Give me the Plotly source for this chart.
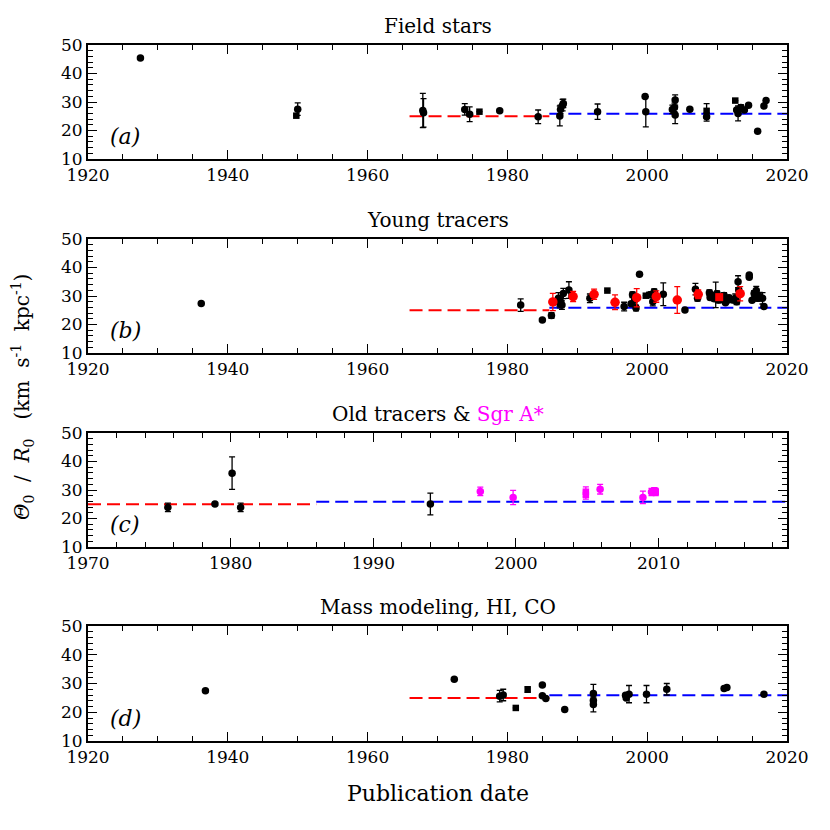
import plotly.graph_objects as go
from plotly.subplots import make_subplots

# ---- (a) field stars ----
a_circ_x = [1927.5, 1950.0, 1967.9, 1968.0, 1973.9, 1974.6, 1978.9, 1984.4, 1987.5, 1987.6,
            1987.9, 1988.0, 1992.9, 1999.7, 1999.8, 2003.6, 2003.9, 2004.0, 2004.0, 2006.1,
            2008.5, 2012.8, 2013.0, 2013.4, 2013.9, 2014.5, 2015.8, 2016.7, 2017.0]
a_circ_y = [45.4, 27.5, 27.0, 26.2, 27.4, 25.7, 26.9, 24.8, 25.1, 27.4,
            28.9, 29.5, 26.6, 31.9, 26.6, 27.4, 28.1, 30.7, 25.4, 27.5,
            24.8, 27.2, 26.0, 28.1, 27.2, 28.9, 19.7, 28.6, 30.5]
a_circ_e = [0, 2.2, 6.0, 5.0, 2.0, 2.6, 0, 2.4, 3.5, 1.5,
            2.0, 1.5, 2.7, 0, 5.3, 1.5, 1.5, 1.8, 3.0, 0,
            1.5, 0, 2.6, 1.0, 0, 0, 0, 0, 0]
a_sq_x = [1949.8, 1976.0, 2008.5, 2012.6]
a_sq_y = [25.2, 26.6, 26.9, 30.5]
a_sq_e = [0, 0, 2.5, 0]

# ---- (b) young tracers ----
b_circ_x = [1936.2, 1981.9, 1985.0, 1986.3, 1987.3, 1987.6, 1988.0, 1987.8, 1988.8, 1991.8,
            1996.7, 1997.7, 1997.9, 1998.2, 1998.4, 1998.9, 2000.5, 2000.8, 2001.0, 2002.3,
            2005.4, 2006.9, 2007.2, 2008.9, 2009.3, 2009.8, 2010.2, 2010.9, 2011.2, 2011.5,
            2012.6, 2012.8, 2013.0, 2013.1, 2014.6, 2014.6, 2015.0, 2015.3, 2015.6, 2015.8,
            2016.1, 2016.5, 2016.7, 2009.0, 2009.6, 2010.0, 2010.6, 2011.0, 2011.7, 2012.2]
b_circ_y = [27.4, 26.8, 21.6, 23.2, 29.2, 28.0, 30.9, 26.8, 32.1, 29.2,
            26.3, 27.3, 30.4, 28.6, 25.8, 37.6, 30.4, 28.0, 31.5, 30.6,
            25.1, 32.4, 29.2, 31.1, 30.2, 30.4, 28.6, 29.2, 27.6, 28.5,
            29.2, 28.0, 35.0, 32.1, 37.4, 36.6, 28.5, 30.9, 31.9, 29.2,
            29.8, 29.2, 26.3, 29.5, 29.0, 30.8, 28.9, 30.2, 29.4, 28.6]
b_circ_e = [0, 2.2, 0, 1.0, 2.0, 1.5, 1.8, 1.5, 2.9, 1.5,
            1.5, 0, 1.0, 1.5, 1.0, 0, 1.0, 1.5, 1.0, 4.0,
            0, 2.0, 1.0, 1.0, 1.0, 4.5, 1.0, 1.5, 0, 0,
            1.5, 1.0, 2.1, 0, 0, 0, 0, 1.0, 1.5, 1.0,
            1.5, 2.0, 0, 0.8, 0.8, 1.0, 0.8, 1.0, 0.8, 0.8]
b_sq_x = [1987.5, 1994.3, 1999.8, 2000.3, 2009.9, 2011.0]
b_sq_y = [27.3, 31.9, 30.1, 30.4, 30.0, 29.0]
b_sq_e = [1.5, 0, 0, 0, 1.0, 1.0]
b_red_x = [1986.5, 1989.4, 1992.4, 1995.4, 1998.5, 2001.3, 2004.3, 2007.3, 2013.3]
b_red_y = [27.9, 29.8, 30.6, 27.8, 29.4, 29.8, 28.6, 30.6, 30.8]
b_red_e = [3.0, 1.8, 1.8, 2.6, 3.2, 2.0, 4.7, 1.5, 2.5]
b_redsq_x = [2010.3]
b_redsq_y = [29.6]
b_redsq_e = [1.0]

# ---- (c) old tracers & Sgr A* ----
c_circ_x = [1975.6, 1978.9, 1980.1, 1980.7, 1994.0]
c_circ_y = [23.9, 25.1, 35.9, 23.9, 25.1]
c_circ_e = [1.5, 0, 5.7, 1.5, 3.8]
c_mag_x = [1997.5, 1999.8, 2005.9, 2008.9, 2009.5]
c_mag_y = [29.5, 27.4, 30.3, 27.4, 29.3]
c_mag_e = [1.5, 2.5, 1.7, 2.2, 1.3]
c_magsq_x = [2004.9, 2004.9, 2009.8, 2009.7]
c_magsq_y = [29.4, 28.3, 29.3, 29.8]
c_magsq_e = [1.7, 1.5, 1.3, 1.0]

# ---- (d) mass modeling, HI, CO ----
d_circ_x = [1936.8, 1972.4, 1978.9, 1979.4, 1985.0, 1985.0, 1985.5, 1988.2, 1992.3, 1992.3,
            1992.3, 1996.9, 1997.0, 1997.4, 1999.9, 2002.8, 2011.0, 2011.4, 2016.7]
d_circ_y = [27.5, 31.5, 25.6, 26.0, 29.5, 25.7, 24.8, 21.0, 26.5, 24.1,
            22.7, 25.9, 25.0, 26.3, 26.3, 28.0, 28.3, 28.6, 26.3]
d_circ_e = [0, 0, 2.0, 2.0, 0, 0, 0, 0, 3.2, 0,
            2.6, 0, 0, 3.0, 3.0, 2.0, 0, 0, 0]
d_sq_x = [1981.2, 1982.9]
d_sq_y = [21.5, 27.9]
d_sq_e = [0, 1.0]

# mean values before / after 1986
red_x = [1966, 1986]
red_x_c = [1970, 1986]
red_y = [25.0, 25.0]
blue_x = [1986, 2020]
blue_x_c = [1986, 2019]
blue_y = [25.9, 25.9]

titles = ["Field stars", "Young tracers",
          "Old tracers &amp; <span style='color:#ff00ff'>Sgr A*</span>",
          "Mass modeling, HI, CO"]
labels = ["(a)", "(b)", "(c)", "(d)"]

FONT = "DejaVu Serif"

fig = make_subplots(rows=4, cols=1)


def pts(x, y, e, row, color="black", symbol="circle", size=7.5):
    fig.add_trace(go.Scatter(x=x, y=y, mode="markers",
                             marker=dict(color=color, symbol=symbol, size=size),
                             error_y=dict(type="data", array=e, color=color,
                                          thickness=1.3, width=3),
                             showlegend=False), row=row, col=1)


def mean_lines(row, rx, bx):
    fig.add_trace(go.Scatter(x=rx, y=red_y, mode="lines",
                             line=dict(color="#ff0000", width=2, dash="13px,6px"),
                             showlegend=False), row=row, col=1)
    fig.add_trace(go.Scatter(x=bx, y=blue_y, mode="lines",
                             line=dict(color="#0000ff", width=2, dash="13px,6px"),
                             showlegend=False), row=row, col=1)


mean_lines(1, red_x, blue_x)
pts(a_circ_x, a_circ_y, a_circ_e, 1)
pts(a_sq_x, a_sq_y, a_sq_e, 1, symbol="square", size=6.5)

mean_lines(2, red_x, blue_x)
pts(b_circ_x, b_circ_y, b_circ_e, 2)
pts(b_sq_x, b_sq_y, b_sq_e, 2, symbol="square", size=6.5)
pts(b_red_x, b_red_y, b_red_e, 2, color="#ff0000", size=9.5)
pts(b_redsq_x, b_redsq_y, b_redsq_e, 2, color="#ff0000", symbol="square", size=8)

mean_lines(3, red_x_c, blue_x_c)
pts(c_circ_x, c_circ_y, c_circ_e, 3)
pts(c_mag_x, c_mag_y, c_mag_e, 3, color="#ff00ff")
pts(c_magsq_x, c_magsq_y, c_magsq_e, 3, color="#ff00ff", symbol="square", size=6.5)

mean_lines(4, red_x, blue_x)
pts(d_circ_x, d_circ_y, d_circ_e, 4)
pts(d_sq_x, d_sq_y, d_sq_e, 4, symbol="square", size=6.5)

# the page body adds an 8px margin, so the figure is 822px and shifted
W = 822
L, R, T, B = 80, 43, 37, 89
ph = W - T - B
pw = W - L - R
# panel (top, bottom) in screen pixels
tops = [45, 239, 433, 626]
bots = [159, 353, 547, 741]
bottom_px = 741

axis_style = dict(showline=True, linecolor="black", linewidth=1.8, mirror="allticks",
                  ticks="inside", ticklen=9, tickwidth=1.3, tickcolor="black",
                  showgrid=False, zeroline=False,
                  tickfont=dict(family=FONT, size=17, color="black"))
minor_style = dict(ticks="inside", ticklen=5, tickwidth=1, tickcolor="black", showgrid=False)

for i in range(4):
    r = i + 1
    dom = [(bottom_px - bots[i]) / ph, (bottom_px - tops[i]) / ph]
    fig.update_yaxes(domain=dom, range=[10, 50], dtick=10, tick0=10,
                     minor=dict(dtick=2, **minor_style), row=r, col=1, **axis_style)
    if r == 3:
        fig.update_xaxes(range=[1970, 2019], dtick=10, tick0=1970,
                         minor=dict(dtick=2, **minor_style), row=r, col=1, **axis_style)
    else:
        fig.update_xaxes(range=[1920, 2020], dtick=20, tick0=1920,
                         minor=dict(dtick=5, **minor_style), row=r, col=1, **axis_style)
    xr = "x" if r == 1 else "x%d" % r
    yr = "y" if r == 1 else "y%d" % r
    fig.add_annotation(text=titles[i], xref=xr + " domain", yref=yr + " domain",
                       x=0.5, y=1, yanchor="bottom", yshift=5, showarrow=False,
                       font=dict(family=FONT, size=20, color="black"))
    fig.add_annotation(text="<i>" + labels[i] + "</i>", xref=xr + " domain",
                       yref=yr + " domain", x=0.028, y=0.2, xanchor="left",
                       yanchor="middle", showarrow=False,
                       font=dict(family=FONT, size=22, color="black"))

sp = "&nbsp;"
ylab = ("<i>Θ</i><sub>0</sub>" + sp * 2 + "/" + sp * 2 + "<i>R</i><sub>0</sub>" + sp * 3 +
        "(km" + sp * 2 + "s<sup>-1</sup>" + sp * 2 + "kpc<sup>-1</sup>)")
fig.add_annotation(text="Publication" + sp + "date", xref="paper", yref="paper",
                   x=0.5, y=(bottom_px - 793) / ph, yanchor="middle", showarrow=False,
                   font=dict(family=FONT, size=22, color="black"))
fig.add_annotation(text=ylab, xref="paper", yref="paper",
                   x=(22 - 88) / pw, y=(bottom_px - 397) / ph,
                   textangle=-90, xanchor="center", yanchor="middle", showarrow=False,
                   font=dict(family=FONT, size=20, color="black"))

fig.update_layout(width=W, height=W, plot_bgcolor="white", paper_bgcolor="white",
                  margin=dict(l=L, r=R, t=T, b=B), showlegend=False)

fig.write_html("out.html")
